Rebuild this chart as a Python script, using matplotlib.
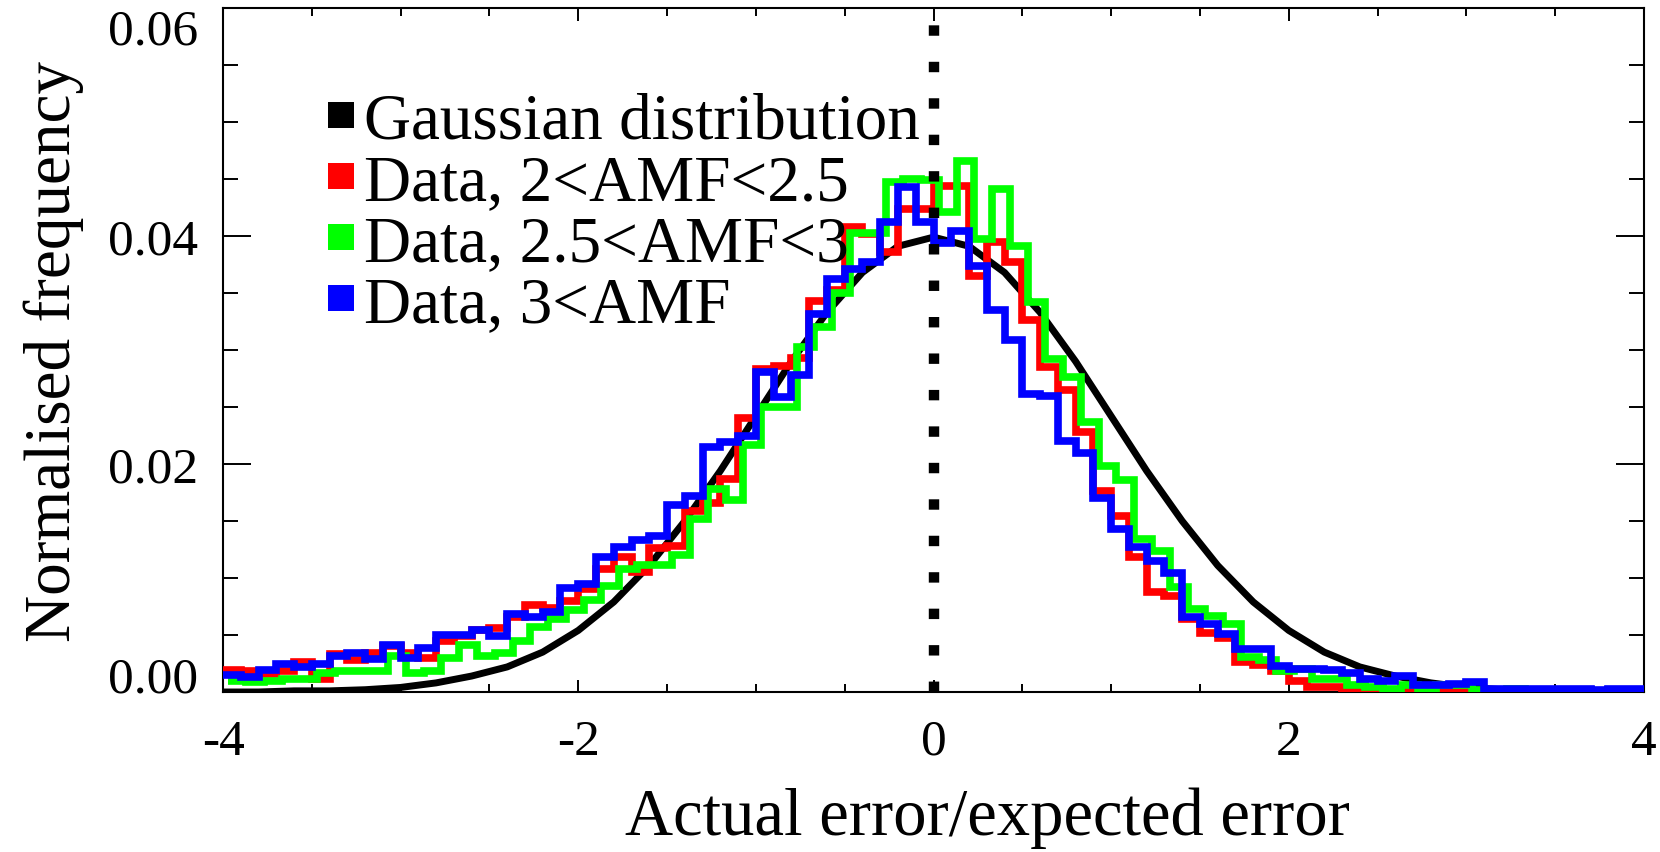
import numpy as np
import matplotlib
matplotlib.use('Agg')
import matplotlib.pyplot as plt
from matplotlib.lines import Line2D
from matplotlib.ticker import FixedLocator, MultipleLocator

plt.rcParams['font.family'] = ['Liberation Serif', 'DejaVu Serif']
plt.rcParams['axes.unicode_minus'] = False

# histogram bins: 0.1 wide from -4 to 4
bin_edges = np.linspace(-4, 4, 81)

red_vals = [
    0.0019, 0.0018, 0.0016, 0.0018, 0.0026, 0.0011, 0.0033, 0.0028, 0.0034, 0.0040,
    0.0034, 0.0030, 0.0045, 0.0049, 0.0054, 0.0056, 0.0066, 0.0076, 0.0074, 0.0080,
    0.0090, 0.0108, 0.0118, 0.0105, 0.0126, 0.0128, 0.0159, 0.0166, 0.0187, 0.0240,
    0.0283, 0.0286, 0.0293, 0.0343, 0.0353, 0.0408, 0.0402, 0.0386, 0.0424, 0.0424,
    0.0444, 0.0444, 0.0365, 0.0395, 0.0377, 0.0326, 0.0285, 0.0265, 0.0228, 0.0176,
    0.0154, 0.0118, 0.0088, 0.0084, 0.0064, 0.0052, 0.0047, 0.0026, 0.0024, 0.0018,
    0.0010, 0.0004, 0.0004, 0.0002, 0.0002, 0.0001, 0.0001, 0.0001, 0.0001, 0.0001,
    0.0000, 0.0001, 0.0001, 0.0001, 0.0000, 0.0001, 0.0001, 0.0001, 0.0001, 0.0001,
]

green_vals = [
    0.0010, 0.0009, 0.0010, 0.0011, 0.0011, 0.0017, 0.0018, 0.0018, 0.0018, 0.0032,
    0.0017, 0.0018, 0.0030, 0.0041, 0.0032, 0.0034, 0.0045, 0.0057, 0.0064, 0.0072,
    0.0081, 0.0093, 0.0108, 0.0111, 0.0111, 0.0120, 0.0152, 0.0178, 0.0168, 0.0217,
    0.0250, 0.0250, 0.0303, 0.0320, 0.0350, 0.0403, 0.0403, 0.0447, 0.0450, 0.0449,
    0.0421, 0.0466, 0.0397, 0.0441, 0.0391, 0.0342, 0.0292, 0.0276, 0.0237, 0.0198,
    0.0186, 0.0134, 0.0124, 0.0092, 0.0073, 0.0067, 0.0060, 0.0031, 0.0028, 0.0018,
    0.0020, 0.0011, 0.0011, 0.0006, 0.0004, 0.0003, 0.0006, 0.0002, 0.0006, 0.0006,
    0.0002, 0.0001, 0.0003, 0.0001, 0.0001, 0.0001, 0.0001, 0.0001, 0.0001, 0.0001,
]

blue_vals = [
    0.0015, 0.0013, 0.0019, 0.0025, 0.0022, 0.0025, 0.0032, 0.0034, 0.0029, 0.0041,
    0.0030, 0.0039, 0.0050, 0.0050, 0.0054, 0.0049, 0.0068, 0.0066, 0.0070, 0.0091,
    0.0095, 0.0118, 0.0127, 0.0133, 0.0137, 0.0164, 0.0172, 0.0215, 0.0219, 0.0225,
    0.0281, 0.0259, 0.0278, 0.0332, 0.0362, 0.0371, 0.0377, 0.0412, 0.0443, 0.0412,
    0.0394, 0.0404, 0.0374, 0.0335, 0.0309, 0.0261, 0.0260, 0.0220, 0.0210, 0.0170,
    0.0143, 0.0127, 0.0115, 0.0104, 0.0066, 0.0060, 0.0051, 0.0038, 0.0038, 0.0023,
    0.0020, 0.0020, 0.0019, 0.0017, 0.0011, 0.0010, 0.0014, 0.0006, 0.0006, 0.0007,
    0.0009, 0.0003, 0.0003, 0.0003, 0.0003, 0.0003, 0.0003, 0.0002, 0.0003, 0.0003,
]

# green histogram is drawn slightly shifted in the original
green_shift = 0.03

# gaussian reference curve, read every 0.2
gauss_x = np.linspace(-4, 4, 41)
gauss_y = [
    0.0000, 0.0000, 0.0001, 0.0001, 0.0002, 0.0004, 0.0008, 0.0014, 0.0022, 0.0035,
    0.0054, 0.0079, 0.0111, 0.0150, 0.0194, 0.0242, 0.0290, 0.0333, 0.0368, 0.0391,
    0.0399,
    0.0391, 0.0368, 0.0333, 0.0290, 0.0242, 0.0194, 0.0150, 0.0111, 0.0079, 0.0054,
    0.0035, 0.0022, 0.0014, 0.0008, 0.0004, 0.0002, 0.0001, 0.0001, 0.0000, 0.0000,
]

labels = ['Gaussian distribution', 'Data, 2<AMF<2.5', 'Data, 2.5<AMF<3', 'Data, 3<AMF']
colors = ['#000000', '#ff0000', '#00ff00', '#0000ff']

x_ticks = [-4, -2, 0, 2, 4]
y_ticks = [0.00, 0.02, 0.04, 0.06]


fig = plt.figure(figsize=(16.6, 8.53), dpi=100)
ax = fig.add_axes([223 / 1660, 160 / 853, 1421 / 1660, 684 / 853])

ax.plot(gauss_x, gauss_y, color=colors[0], lw=5.0, solid_joinstyle='round', zorder=2)
ax.stairs(red_vals, bin_edges, baseline=None, color=colors[1], lw=5.5, zorder=3)
ax.stairs(green_vals, bin_edges + green_shift, baseline=None, color=colors[2], lw=5.5, zorder=4)
ax.stairs(blue_vals, bin_edges, baseline=None, color=colors[3], lw=5.5, zorder=5)
ax.axvline(0, color='black', lw=7.5, linestyle=(0, (1.0, 2.5)), zorder=6)

ax.set_xlim(-4, 4)
ax.set_ylim(0, 0.06)

ax.xaxis.set_major_locator(FixedLocator(x_ticks))
ax.xaxis.set_minor_locator(MultipleLocator(0.5))
ax.yaxis.set_major_locator(FixedLocator(y_ticks))
ax.yaxis.set_minor_locator(MultipleLocator(0.005))
ax.set_xticklabels([str(t) for t in x_ticks])
ax.set_yticklabels(['%.2f' % t for t in y_ticks])

ax.tick_params(which='both', direction='in', top=True, right=True, width=1.4, labelsize=37)
ax.tick_params(axis='x', which='major', length=9, pad=19)
ax.tick_params(axis='x', which='minor', length=5.5)
ax.tick_params(axis='y', which='major', length=20, pad=18)
ax.tick_params(axis='y', which='minor', length=11)
for s in ax.spines.values():
    s.set_linewidth(1.5)

# end labels of the y axis sit inside the frame
yt = ax.yaxis.get_major_ticks()
yt[0].label1.set_verticalalignment('baseline')
yt[-1].label1.set_verticalalignment('top')

ax.set_xlabel('Actual error/expected error', fontsize=48)
ax.set_ylabel('Normalised frequency', fontsize=47)
ax.xaxis.set_label_coords(0.5377, -0.138)
ax.yaxis.set_label_coords(-0.098, 0.5)

handles = [Line2D([], [], ls='none', marker='s', ms=18.5, mew=0, color=c) for c in colors]
ax.legend(handles, labels, loc='upper left', bbox_to_anchor=(0.0718, 0.877),
          frameon=False, fontsize=47, handlelength=0.5, handletextpad=0.1,
          labelspacing=0.02, borderpad=0, borderaxespad=0)

fig.savefig('out.png', dpi=100)
